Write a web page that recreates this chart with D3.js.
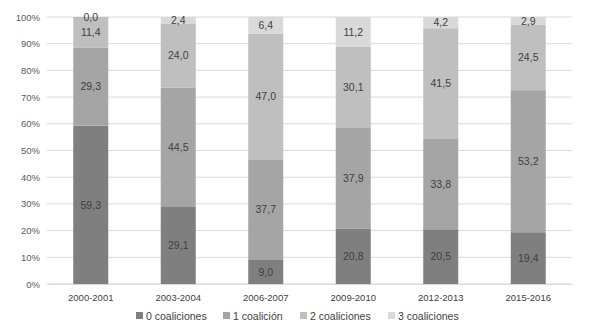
<!DOCTYPE html>
<html>
<head>
<meta charset="utf-8">
<script src="https://cdn.jsdelivr.net/npm/d3@7"></script>
<style>
  body { margin: 0; background: #fff; }
  svg { display: block; font-family: "Liberation Sans", Arial, sans-serif; }
</style>
</head>
<body>
<svg id="chart" width="589" height="335"></svg>
<script>
// Stacked 100% bars: coalitions per period.
var periods = ['2000-2001', '2003-2004', '2006-2007', '2009-2010', '2012-2013', '2015-2016'];
var seriesNames = ['0 coaliciones', '1 coalición', '2 coaliciones', '3 coaliciones'];
var seriesColors = ['#7f7f7f', '#a5a5a5', '#bfbfbf', '#d9d9d9'];
var v0 = [59.3, 29.1, 9.0, 20.8, 20.5, 19.4];
var v1 = [29.3, 44.5, 37.7, 37.9, 33.8, 53.2];
var v2 = [11.4, 24.0, 47.0, 30.1, 41.5, 24.5];
var v3 = [0.0, 2.4, 6.4, 11.2, 4.2, 2.9];
var yTicks = [0, 10, 20, 30, 40, 50, 60, 70, 80, 90, 100];

var svg = d3.select('#chart');
var m = { left: 47, right: 17, top: 17, bottom: 51 };
var W = 589, H = 335;
var iw = W - m.left - m.right, ih = H - m.top - m.bottom;
var g = svg.append('g').attr('transform', 'translate(' + m.left + ',' + m.top + ')');

var x = d3.scaleBand().domain(periods).range([0, iw]).paddingInner(0.6).paddingOuter(0.3);
var y = d3.scaleLinear().domain([0, 100]).range([ih, 0]);

// gridlines
g.append('g').selectAll('line').data(yTicks).enter().append('line')
    .attr('x1', 0).attr('x2', iw)
    .attr('y1', function (d) { return y(d); }).attr('y2', function (d) { return y(d); })
    .attr('stroke', '#d9d9d9').attr('stroke-width', 1);

var rows = periods.map(function (p, i) {
    return { period: p, s0: v0[i], s1: v1[i], s2: v2[i], s3: v3[i] };
});
var stack = d3.stack().keys(['s0', 's1', 's2', 's3']);
var layers = stack(rows);

layers.forEach(function (layer, li) {
    var lg = g.append('g');
    lg.selectAll('rect').data(layer).enter().append('rect')
        .attr('x', function (d) { return x(d.data.period); })
        .attr('width', x.bandwidth())
        .attr('y', function (d) { return y(d[1]); })
        .attr('height', function (d) { return Math.max(0, y(d[0]) - y(d[1])); })
        .attr('fill', seriesColors[li]);
    lg.selectAll('text').data(layer).enter().append('text')
        .attr('x', function (d) { return x(d.data.period) + x.bandwidth() / 2; })
        .attr('y', function (d) { return (y(d[0]) + y(d[1])) / 2; })
        .attr('dy', '0.35em')
        .attr('text-anchor', 'middle')
        .attr('font-size', 10.5)
        .attr('fill', '#404040')
        .text(function (d) { return (d[1] - d[0]).toFixed(1).replace('.', ','); });
});

// axes
var ay = g.append('g')
    .call(d3.axisLeft(y).tickValues(yTicks).tickFormat(function (d) { return d + '%'; })
        .tickSize(0).tickPadding(7));
ay.select('.domain').remove();
ay.selectAll('text').attr('font-size', 9.5).attr('fill', '#595959').attr('font-family', null);

var ax = g.append('g').attr('transform', 'translate(0,' + ih + ')')
    .call(d3.axisBottom(x).tickSize(0).tickPadding(10));
ax.select('.domain').attr('stroke', '#d9d9d9');
ax.selectAll('text').attr('font-size', 9.5).attr('fill', '#404040').attr('font-family', null);

// legend
var legX = [136, 223, 300, 388];
var leg = svg.append('g').attr('transform', 'translate(0,316)');
seriesNames.forEach(function (n, i) {
    leg.append('rect').attr('x', legX[i]).attr('y', -4).attr('width', 7).attr('height', 7)
        .attr('fill', seriesColors[i]);
    leg.append('text').attr('x', legX[i] + 10).attr('y', 0).attr('dy', '0.35em')
        .attr('font-size', 10.5).attr('fill', '#404040').text(n);
});
</script>
</body>
</html>
